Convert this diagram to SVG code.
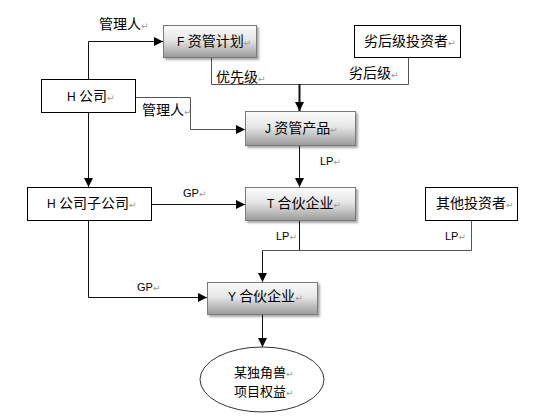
<svg xmlns="http://www.w3.org/2000/svg" width="552" height="419" viewBox="0 0 552 419">
<defs>
<linearGradient id="g" x1="0" y1="0" x2="0" y2="1">
<stop offset="0" stop-color="#fbfbfb"/>
<stop offset="0.45" stop-color="#e6e6e6"/>
<stop offset="1" stop-color="#9a9a9a"/>
</linearGradient>
<filter id="sh" x="-10%" y="-10%" width="130%" height="140%">
<feGaussianBlur in="SourceAlpha" stdDeviation="1.2"/>
<feOffset dx="2" dy="2" result="b"/>
<feComponentTransfer><feFuncA type="linear" slope="0.35"/></feComponentTransfer>
<feMerge><feMergeNode/><feMergeNode in="SourceGraphic"/></feMerge>
</filter>
<marker id="ah" viewBox="0 0 10 10" refX="10" refY="5" markerWidth="9" markerHeight="9" markerUnits="userSpaceOnUse" orient="auto">
<path d="M0,0 L10,5 L0,10 z" fill="#000"/>
</marker>
</defs>
<style>
text{font-family:"Noto Sans CJK SC","Liberation Sans",sans-serif;font-size:14px;fill:#000}
.lat{font-family:"Liberation Sans",sans-serif;font-size:11px}
.pm{font-family:"DejaVu Sans",sans-serif;font-size:9px;fill:#999}
.gbox{fill:url(#g);stroke:#7a7a7a;stroke-width:1;filter:url(#sh)}
.wbox{fill:#fff;stroke:#000;stroke-width:1}
.ln{fill:none;stroke:#111;stroke-width:1}
.lg{fill:none;stroke:#555;stroke-width:1}
.arr{marker-end:url(#ah)}
.el{font-size:13px}
</style>
<rect width="552" height="419" fill="#fff"/>
<g id="connectors">
<path class="ln arr" d="M88.5,79 V41.5 H163"/>
<path class="lg" d="M211.5,57 V84.5 H299.5"/>
<path class="lg" d="M408.5,57 V84.5 H299.5"/>
<path class="ln arr" style="stroke-width:2" d="M299.5,84 V111"/>
<path class="lg arr" d="M135,97.5 H190.5 V129.5 H245"/>
<path class="ln arr" d="M88.5,112 V187"/>
<path class="ln arr" d="M151,204.5 H245"/>
<path class="ln arr" d="M299.5,146 V187"/>
<path class="ln arr" d="M88.5,220 V297.5 H207"/>
<path class="ln arr" d="M299.5,220 V250.5 H262.5 V282"/>
<path class="lg" d="M471.5,220 V250.5 H262.5"/>
<path class="ln arr" d="M262.5,314 V347"/>
</g>
<g id="labels">
<text x="99" y="29">管理人<tspan class="pm">↵</tspan></text>
<text x="216" y="82">优先级<tspan class="pm">↵</tspan></text>
<text x="349" y="78">劣后级<tspan class="pm">↵</tspan></text>
<text x="142" y="115">管理人<tspan class="pm">↵</tspan></text>
<text class="lat" x="320" y="165">LP<tspan class="pm">↵</tspan></text>
<text class="lat" x="183" y="197">GP<tspan class="pm">↵</tspan></text>
<text class="lat" x="276" y="240">LP<tspan class="pm">↵</tspan></text>
<text class="lat" x="445" y="240">LP<tspan class="pm">↵</tspan></text>
<text class="lat" x="137" y="291">GP<tspan class="pm">↵</tspan></text>
</g>
<g id="node-F">
<rect class="gbox" x="163.5" y="25.5" width="93" height="32"/>
<text x="177" y="46"><tspan class="lat" style="font-size:12px">F </tspan>资管计划<tspan class="pm">↵</tspan></text>
</g>
<g id="node-junior">
<rect class="wbox" x="354.5" y="25.5" width="106" height="32"/>
<text x="364" y="46">劣后级投资者<tspan class="pm">↵</tspan></text>
</g>
<g id="node-H">
<rect class="wbox" x="41.5" y="79.5" width="94" height="33"/>
<text x="67" y="101"><tspan class="lat" style="font-size:12px">H </tspan>公司<tspan class="pm">↵</tspan></text>
</g>
<g id="node-J">
<rect class="gbox" x="245.5" y="111.5" width="110" height="34"/>
<text x="265" y="133"><tspan class="lat" style="font-size:12px">J </tspan>资管产品<tspan class="pm">↵</tspan></text>
</g>
<g id="node-Hsub">
<rect class="wbox" x="27.5" y="187.5" width="124" height="33"/>
<text x="47" y="208"><tspan class="lat" style="font-size:12px">H </tspan>公司子公司<tspan class="pm">↵</tspan></text>
</g>
<g id="node-T">
<rect class="gbox" x="245.5" y="187.5" width="110" height="33"/>
<text x="267" y="208"><tspan class="lat" style="font-size:12px">T </tspan>合伙企业<tspan class="pm">↵</tspan></text>
</g>
<g id="node-other">
<rect class="wbox" x="425.5" y="187.5" width="92" height="33"/>
<text x="436" y="208">其他投资者<tspan class="pm">↵</tspan></text>
</g>
<g id="node-Y">
<rect class="gbox" x="207.5" y="282.5" width="110" height="32"/>
<text x="228" y="301"><tspan class="lat" style="font-size:12px">Y </tspan>合伙企业<tspan class="pm">↵</tspan></text>
</g>
<g id="node-target">
<ellipse cx="262" cy="379.5" rx="62" ry="32.5" fill="#fff" stroke="#333" stroke-width="1"/>
<text class="el" x="234" y="377">某独角兽<tspan class="pm">↵</tspan></text>
<text class="el" x="234" y="396">项目权益<tspan class="pm">↵</tspan></text>
</g>
</svg>
